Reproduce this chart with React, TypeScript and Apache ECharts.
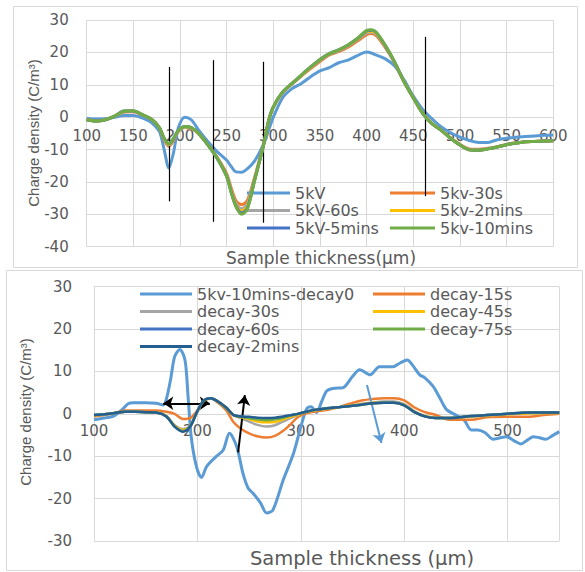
import { useEffect, useRef } from "react";
import * as echarts from "echarts";

// ---------- Top panel data ----------
const topX = [100,110,120,130,140,150,160,170,178,183,188,193,198,205,212,220,230,240,250,255,260,266,272,280,290,295,300,310,320,330,340,350,360,370,380,390,400,405,410,420,430,440,450,460,470,480,490,500,510,520,530,540,550,560,570,580,590,600];
const top5kV = [-0.3,-0.6,-0.5,0,0.5,0.5,-0.3,-1.8,-4.5,-10,-15.7,-11,-3.5,0,-0.8,-4,-7.6,-10.7,-13.3,-15.3,-16.9,-17,-16,-13.5,-8,-4,0,6,8.8,10.4,12.5,14.3,15.3,16.8,17.6,19,20.1,19.8,19.2,18,15.8,11.5,6.5,2.4,-0.5,-3,-4.8,-6.2,-7.2,-7.8,-7.8,-7,-6.5,-6.2,-6,-5.8,-5.6,-5.5];
const top30s = [-0.7,-1.1,-0.8,0.3,1.6,1.7,0.6,-0.8,-3.4,-7,-9,-7.2,-4.5,-3.2,-3.5,-5.2,-8.6,-12.5,-17.5,-22,-25.8,-27,-25.8,-18.5,-7.8,-1.2,3,7.6,10.2,12.7,15,17.2,19.2,20.2,21.6,23.5,25.5,25.8,25.2,21.5,16.8,10.9,5.9,1.3,-1.9,-4,-6.4,-8.4,-9.8,-9.9,-9.6,-9.1,-8.4,-7.9,-7.6,-7.5,-7.4,-7.3];
const top60s = [-0.8,-1.2,-0.8,0.3,1.7,1.8,0.6,-0.8,-3.4,-6.8,-8.7,-6.9,-4.4,-3.1,-3.4,-5.1,-8.6,-12.7,-18,-22.8,-26.6,-28.3,-26.8,-19,-7.9,-1.1,3.1,7.7,10.3,12.8,15.3,17.5,19.4,20.5,22,24,26,26.2,25.7,21.8,16.9,11,5.9,1.2,-2,-4.1,-6.5,-8.5,-10,-10.1,-9.7,-9.2,-8.5,-8,-7.6,-7.5,-7.4,-7.3];
const top2mins = [-0.8,-1.2,-0.8,0.3,1.8,1.9,0.7,-0.8,-3.3,-6.6,-8.5,-6.7,-4.3,-3,-3.3,-5,-8.6,-12.7,-18.2,-23,-27.2,-29,-27.6,-19.2,-8,-1,3.2,7.8,10.4,12.9,15.4,17.7,19.5,20.7,22.2,24.2,26.4,26.5,26,22,17,11,6,1.2,-2,-4.1,-6.5,-8.6,-10.1,-10.2,-9.8,-9.2,-8.5,-8,-7.6,-7.5,-7.4,-7.3];
const top5mins = [-0.8,-1.2,-0.8,0.3,1.9,1.9,0.7,-0.8,-3.3,-6.5,-8.3,-6.6,-4.2,-2.9,-3.2,-5,-8.6,-12.8,-18.3,-23.3,-27.5,-29.6,-28.2,-19.4,-8,-1,3.2,7.8,10.4,13,15.5,17.8,19.6,20.8,22.3,24.3,26.6,26.8,26.2,22.1,17,11,6,1.2,-2,-4.1,-6.5,-8.6,-10.1,-10.2,-9.8,-9.2,-8.5,-8,-7.6,-7.5,-7.4,-7.3];
const top10mins = [-0.8,-1.2,-0.8,0.3,1.9,2,0.7,-0.8,-3.3,-6.5,-8.2,-6.5,-4.2,-2.9,-3.2,-5,-8.6,-12.8,-18.4,-23.5,-27.7,-30,-28.5,-19.5,-8,-1,3.2,7.8,10.4,13,15.5,17.8,19.6,20.8,22.3,24.3,26.8,27,26.3,22.2,17,11,6,1.2,-2,-4.1,-6.5,-8.6,-10.1,-10.2,-9.8,-9.2,-8.5,-8,-7.6,-7.5,-7.4,-7.3];
const topNames = ["5kV", "5kv-30s", "5kV-60s", "5kv-2mins", "5kV-5mins", "5kv-10mins"];
const topSeriesValues = [top5kV, top30s, top60s, top2mins, top5mins, top10mins];
const topMarkX = [188, 236, 289, 463];
const topMarkTop = [15.5, 17.6, 17.1, 24.8];
const topMarkBottom = [-26, -32.3, -32.6, -24.4];

// ---------- Bottom panel data ----------
const decay0X = [100,110,120,128,133,138,150,160,167,170,174,178,183,188,191,194,199,204,209,218,225,231,238,244,249,254,261,267,273,283,293,301,306,310,315,320,325,331,341,350,357,367,376,389,396,403,408,415,420,428,435,441,450,458,465,471,478,486,492,499,506,513,519,525,530,537,543,550];
const decay0Y = [-1.4,-1,-0.4,1.2,2.4,2.6,2.6,2.5,2.1,3.5,8,13.5,15.2,12.7,4,-5.4,-12.4,-15,-12.4,-10.1,-8.5,-4.6,-7.7,-14,-17.5,-18.8,-21,-23.4,-22.7,-15.6,-9.3,-2.2,1.3,1.7,0.3,2.8,5.4,6,6.2,8.8,10.4,9.2,11.1,11.1,12,12.7,11.5,9.2,8.5,6.5,3.5,1,-0.3,-1.5,-3.8,-3.8,-4.4,-6,-5.7,-5.4,-6.3,-7.1,-6.2,-5.4,-5.6,-6,-5.2,-4.2];
const decayX = [100,110,120,130,140,150,160,170,178,186,193,199,206,213,220,228,235,242,250,258,267,275,283,290,297,305,315,325,338,350,360,370,380,390,400,410,420,430,440,450,465,480,500,520,535,550];
const decay15s = [-0.6,-0.3,0.2,0.8,0.8,0.8,0.8,0.5,0,-1.2,-1,0.5,2.8,3.7,2.6,0.8,-2,-3.5,-4.6,-5.3,-5.6,-5.2,-4,-2.5,-0.8,0.1,0.6,0.9,1.7,2.6,3.2,3.5,3.7,3.7,3.2,1.5,0.4,-0.2,-1.2,-1.4,-1.4,-0.8,-0.7,-0.7,-0.3,0];
const decay30s = [-0.4,-0.1,0.2,0.5,0.5,0.4,0.3,-0.5,-2.7,-3.6,-2.8,0.1,3,3.6,2.9,1.4,-0.3,-1,-1.8,-2.6,-3,-2.7,-1.8,-1,-0.3,0.4,0.9,1.2,1.6,2,2.4,2.7,2.9,2.9,2.3,0.6,-0.5,-0.9,-1,-0.9,-0.6,-0.4,-0.1,0.1,0.2,0.2];
const decay45s = [-0.4,-0.1,0.2,0.5,0.5,0.4,0.3,-0.5,-2.8,-3.8,-2.9,0.1,3,3.6,2.9,1.4,-0.3,-0.8,-1.2,-1.8,-2,-1.9,-1.3,-0.7,-0.2,0.4,0.9,1.2,1.6,2,2.3,2.6,2.7,2.7,2.1,0.5,-0.5,-0.9,-1,-0.9,-0.6,-0.4,-0.1,0.1,0.2,0.2];
const decay60s = [-0.3,-0.1,0.2,0.5,0.5,0.4,0.3,-0.6,-3,-4.1,-3,0.1,3.1,3.7,2.9,1.3,-0.3,-0.6,-0.9,-1.2,-1.3,-1.2,-0.8,-0.4,0,0.5,1,1.3,1.6,1.9,2.2,2.5,2.6,2.6,2,0.4,-0.6,-1,-1,-0.9,-0.5,-0.3,0,0.3,0.3,0.3];
const decay75s = [-0.3,-0.1,0.2,0.5,0.5,0.4,0.3,-0.6,-3,-4.1,-3,0.1,3.1,3.7,2.9,1.3,-0.3,-0.7,-1,-1.3,-1.5,-1.3,-0.9,-0.4,0,0.5,1,1.3,1.6,1.9,2.2,2.5,2.6,2.6,2,0.4,-0.6,-1,-1,-0.9,-0.5,-0.3,0,0.3,0.3,0.3];
const decay2mins = [-0.3,-0.1,0.2,0.5,0.5,0.4,0.3,-0.6,-3,-4.2,-3,0.1,3.1,3.7,2.9,1.5,-0.3,-0.6,-0.7,-0.9,-1,-0.9,-0.6,-0.3,0,0.5,1,1.3,1.6,1.9,2.2,2.5,2.6,2.6,2,0.4,-0.6,-1,-1,-0.9,-0.5,-0.3,0,0.3,0.3,0.3];
const bottomNames = ["5kv-10mins-decay0", "decay-15s", "decay-30s", "decay-45s", "decay-60s", "decay-75s", "decay-2mins"];
const bottomSeriesValues = [decay15s, decay30s, decay45s, decay60s, decay75s, decay2mins];
const arrowX1 = [167, 239.4, 364];
const arrowY1 = [2.5, -9.1, 6.8];
const arrowX2 = [212, 245.9, 378];
const arrowY2 = [2.5, 4.4, -6.9];

// ---------- Styles ----------
const palette = ["#5B9BD5", "#ED7D31", "#A5A5A5", "#FFC000", "#4472C4", "#70AD47", "#255E91"];
const TEXT = "#595959";
const GRID = "#d9d9d9";
const FONT = "DejaVu Sans";

const zip = (xs: number[], ys: number[]) => xs.map((x, i) => [x, ys[i]]);

export default function App() {
  const ref = useRef<HTMLDivElement>(null);
  useEffect(() => {
    if (!ref.current) return;
    const chart = echarts.init(ref.current, null, { renderer: "svg" });

    const axisLabel = (margin: number) => ({ color: TEXT, fontSize: 15, fontFamily: FONT, margin });

    const topGridH = 226.7;
    const botGridH = 254.3;

    const topSeries = topNames.map((name, i) => ({
      name,
      type: "line",
      xAxisIndex: 0,
      yAxisIndex: 0,
      data: zip(topX, topSeriesValues[i]),
      smooth: 0.3,
      showSymbol: false,
      symbol: "none",
      lineStyle: { width: 3, color: palette[i] },
      itemStyle: { color: palette[i] },
      emphasis: { disabled: true },
      z: 2 + i,
      ...(i === topNames.length - 1
        ? {
            markLine: {
              silent: true,
              symbol: "none",
              label: { show: false },
              lineStyle: { color: "#000", width: 1.2, type: "solid" },
              emphasis: { disabled: true },
              data: topMarkX.map((x, k) => [
                { coord: [x, topMarkTop[k]] },
                { coord: [x, topMarkBottom[k]] },
              ]),
            },
          }
        : {}),
    }));

    const decay0Series = {
      name: bottomNames[0],
      type: "line",
      xAxisIndex: 1,
      yAxisIndex: 1,
      data: zip(decay0X, decay0Y),
      smooth: 0.3,
      showSymbol: false,
      symbol: "none",
      lineStyle: { width: 3, color: palette[0] },
      itemStyle: { color: palette[0] },
      emphasis: { disabled: true },
      z: 2,
    };
    const bottomSeries = bottomSeriesValues.map((vals, i) => ({
      name: bottomNames[i + 1],
      type: "line",
      xAxisIndex: 1,
      yAxisIndex: 1,
      data: zip(decayX, vals),
      smooth: 0.3,
      showSymbol: false,
      symbol: "none",
      lineStyle: { width: 2.5, color: palette[i + 1] },
      itemStyle: { color: palette[i + 1] },
      emphasis: { disabled: true },
      z: 3 + i,
      ...(i === bottomSeriesValues.length - 1
        ? {
            markLine: {
              silent: true,
              symbol: ["none", "arrow"],
              symbolSize: 10,
              label: { show: false },
              emphasis: { disabled: true },
              data: arrowX1.map((x, k) => [
                {
                  coord: [x, arrowY1[k]],
                  symbol: k === 0 ? "arrow" : "none",
                  lineStyle: { color: k === 2 ? palette[0] : "#000", width: 2, type: "solid" },
                },
                { coord: [arrowX2[k], arrowY2[k]], symbol: "arrow" },
              ]),
            },
          }
        : {}),
    }));

    const legendBase = {
      orient: "vertical",
      padding: 0,
      icon: "rect",
      itemHeight: 3,
      selectedMode: false,
    };
    const legendText = { color: TEXT, fontSize: 16, fontFamily: FONT, lineHeight: 17 };

    chart.setOption({
      animation: false,
      backgroundColor: "#ffffff",
      grid: [
        { left: 86.7, top: 20, width: 466.6, height: topGridH },
        { left: 94, top: 286.7, width: 465.3, height: botGridH },
      ],
      xAxis: [
        {
          type: "value",
          gridIndex: 0,
          min: 100,
          max: 600,
          interval: 50,
          offset: -topGridH * 40 / 70,
          axisLine: { show: false, onZero: false },
          axisTick: { show: false },
          axisLabel: axisLabel(11),
          splitLine: { show: true, lineStyle: { color: GRID } },
        },
        {
          type: "value",
          gridIndex: 1,
          min: 100,
          max: 550,
          interval: 100,
          offset: -botGridH * 30 / 60,
          axisLine: { show: false, onZero: false },
          axisTick: { show: false },
          axisLabel: { ...axisLabel(10), showMaxLabel: false },
          splitLine: { show: true, lineStyle: { color: GRID } },
        },
      ],
      yAxis: [
        {
          type: "value",
          gridIndex: 0,
          min: -40,
          max: 30,
          interval: 10,
          axisLine: { show: false, onZero: false },
          axisTick: { show: false },
          axisLabel: axisLabel(18),
          splitLine: { show: true, lineStyle: { color: GRID } },
        },
        {
          type: "value",
          gridIndex: 1,
          min: -30,
          max: 30,
          interval: 10,
          axisLine: { show: false, onZero: false },
          axisTick: { show: false },
          axisLabel: axisLabel(22),
          splitLine: { show: true, lineStyle: { color: GRID } },
        },
      ],
      legend: [
        { ...legendBase, left: 247, top: 184.5, itemWidth: 43, itemGap: 0.5, textStyle: legendText, data: [topNames[0], topNames[2], topNames[4]] },
        { ...legendBase, left: 390, top: 184.5, itemWidth: 45, itemGap: 0.5, textStyle: legendText, data: [topNames[1], topNames[3], topNames[5]] },
        { ...legendBase, left: 140, top: 285.5, itemWidth: 52, itemGap: 0.5, textStyle: legendText, data: [bottomNames[0], bottomNames[2], bottomNames[4], bottomNames[6]] },
        { ...legendBase, left: 373, top: 285.5, itemWidth: 52, itemGap: 0.5, textStyle: legendText, data: [bottomNames[1], bottomNames[3], bottomNames[5]] },
      ],
      graphic: [
        { type: "rect", silent: true, z: -10, shape: { x: 13.5, y: 6.5, width: 564, height: 261 }, style: { fill: "none", stroke: GRID, lineWidth: 1 } },
        { type: "rect", silent: true, z: -10, shape: { x: 6.5, y: 270.5, width: 576, height: 300 }, style: { fill: "none", stroke: GRID, lineWidth: 1 } },
        { type: "text", silent: true, x: 321, y: 258, style: { text: "Sample thickness(µm)", fill: TEXT, font: `17px '${FONT}'`, align: "center", verticalAlign: "middle", textAlign: "center", textVerticalAlign: "middle" } },
        { type: "text", silent: true, x: 362, y: 558, style: { text: "Sample thickness (µm)", fill: TEXT, font: `19.5px '${FONT}'`, align: "center", verticalAlign: "middle", textAlign: "center", textVerticalAlign: "middle" } },
        { type: "text", silent: true, x: 33, y: 133, rotation: Math.PI / 2, style: { text: "Charge density (C/m³)", fill: TEXT, font: "15px 'Liberation Sans'", align: "center", verticalAlign: "middle", textAlign: "center", textVerticalAlign: "middle" } },
        { type: "text", silent: true, x: 25, y: 412, rotation: Math.PI / 2, style: { text: "Charge density (C/m³)", fill: TEXT, font: "15px 'Liberation Sans'", align: "center", verticalAlign: "middle", textAlign: "center", textVerticalAlign: "middle" } },
      ],
      series: [...topSeries, decay0Series, ...bottomSeries],
    });
    return () => chart.dispose();
  }, []);
  return <div ref={ref} style={{ position: "absolute", left: 0, top: 0, width: 585, height: 572 }} />;
}
